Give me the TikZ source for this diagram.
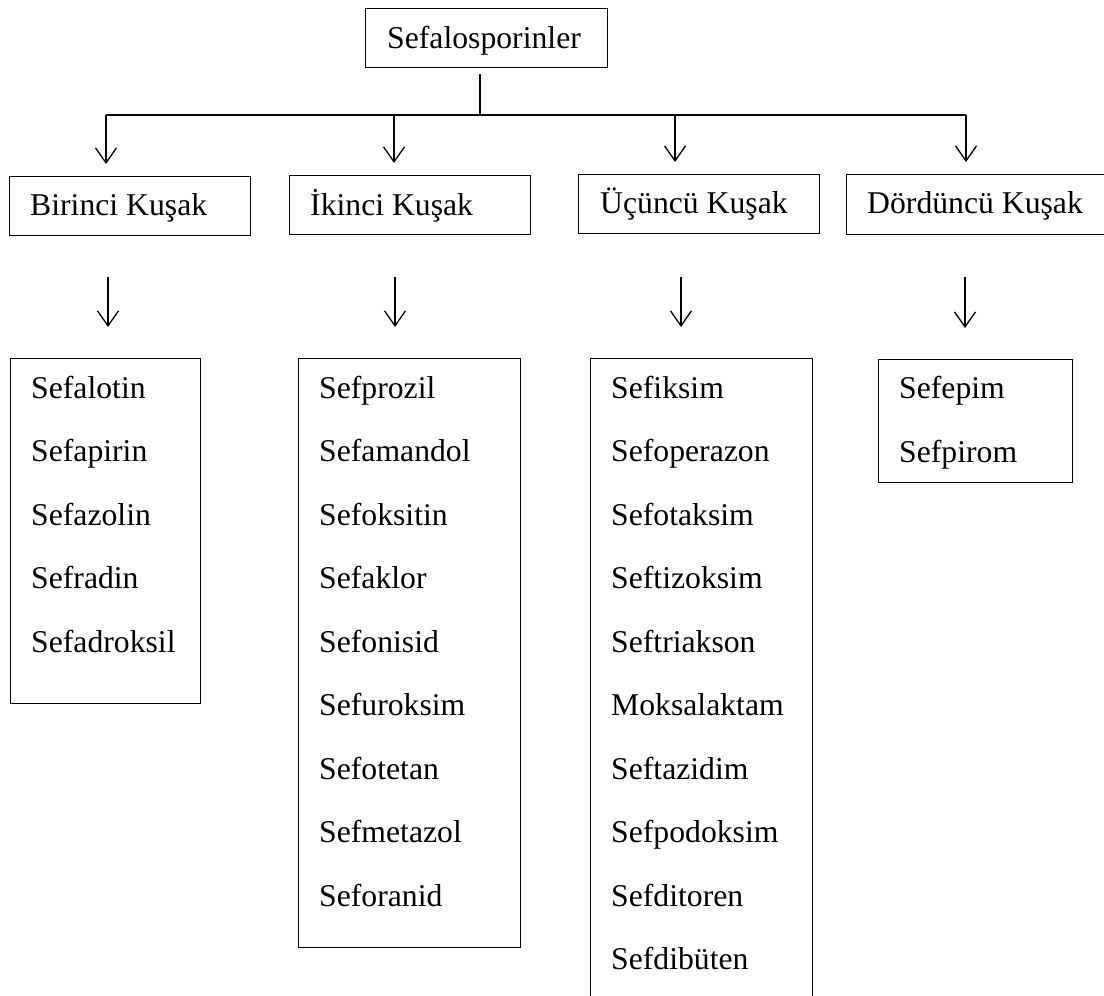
\documentclass[tikz,border=0pt]{standalone}
\usepackage{fontspec}
\setmainfont{Liberation Serif}
\usetikzlibrary{arrows.meta}

\tikzset{
  box/.style={draw=black, line width=1.3pt, rectangle, inner sep=0pt, anchor=north west},
  label/.style={anchor=base west, inner sep=0pt, font=\fontsize{31.7}{38}\selectfont},
  arr/.style={draw=black, line width=1.3pt, -{Straight Barb[length=15pt, width=21pt, line width=1.3pt]}},
  trunk/.style={draw=black, line width=2.2pt},
}

\begin{document}
\begin{tikzpicture}[x=1pt, y=-1pt]
  \useasboundingbox (0,0) rectangle (1104,996);
  \clip (0,0) rectangle (1104,996);

  % root
  \node[box, minimum width=242pt, minimum height=59pt] (root) at (365,8) {};
  \node[label] (rootT) at (387,48) {Sefalosporinler};

  % generation headers
  \node[box, minimum width=241pt, minimum height=59pt] (k1) at (9,176) {};
  \node[box, minimum width=241pt, minimum height=59pt] (k2) at (289,175) {};
  \node[box, minimum width=241pt, minimum height=59pt] (k3) at (578,174) {};
  \node[box, minimum width=270pt, minimum height=60pt] (k4) at (846,174) {};
  \node[label] (k1T) at (30,215) {Birinci Kuşak};
  \node[label] (k2T) at (310,215) {İkinci Kuşak};
  \node[label] (k3T) at (600,213) {Üçüncü Kuşak};
  \node[label] (k4T) at (867,213) {Dördüncü Kuşak};

  % drug lists
  \node[box, minimum width=190pt, minimum height=345pt] (l1) at (10,358) {};
  \node[box, minimum width=222pt, minimum height=589pt] (l2) at (298,358) {};
  \node[box, minimum width=222pt, minimum height=660pt] (l3) at (590,358) {};
  \node[box, minimum width=194pt, minimum height=123pt] (l4) at (878,359) {};

  \foreach \t [count=\i from 0] in {Sefalotin,Sefapirin,Sefazolin,Sefradin,Sefadroksil}
    \node[label] (a\i) at (31,398+63.5*\i) {\t};
  \foreach \t [count=\i from 0] in {Sefprozil,Sefamandol,Sefoksitin,Sefaklor,Sefonisid,Sefuroksim,Sefotetan,Sefmetazol,Seforanid}
    \node[label] (b\i) at (319,398+63.5*\i) {\t};
  \foreach \t [count=\i from 0] in {Sefiksim,Sefoperazon,Sefotaksim,Seftizoksim,Seftriakson,Moksalaktam,Seftazidim,Sefpodoksim,Sefditoren,Sefdibüten}
    \node[label] (c\i) at (611,398+63.5*\i) {\t};
  \foreach \t [count=\i from 0] in {Sefepim,Sefpirom}
    \node[label] (d\i) at (899,398+64*\i) {\t};

  % trunk and branches
  \coordinate (j) at (480,115);
  \coordinate (s1) at (106,115);
  \coordinate (s2) at (394,115);
  \coordinate (s3) at (675,115);
  \coordinate (s4) at (966,115);
  \draw[trunk] ([yshift=-6pt]root.south -| j) -- (j);
  \draw[trunk] (s1) -- (s4);
  \foreach \i in {1,...,4}
    \draw[arr, shorten >=12pt] (s\i) -- (s\i |- k\i.north);

  % arrows from headers to lists
  \coordinate (t1) at (108,277);
  \coordinate (t2) at (395,277);
  \coordinate (t3) at (681,277);
  \coordinate (t4) at (965,277);
  \foreach \i in {1,...,4}
    \draw[arr, shorten >=31pt] (t\i) -- (t\i |- l\i.north);
\end{tikzpicture}
\end{document}
